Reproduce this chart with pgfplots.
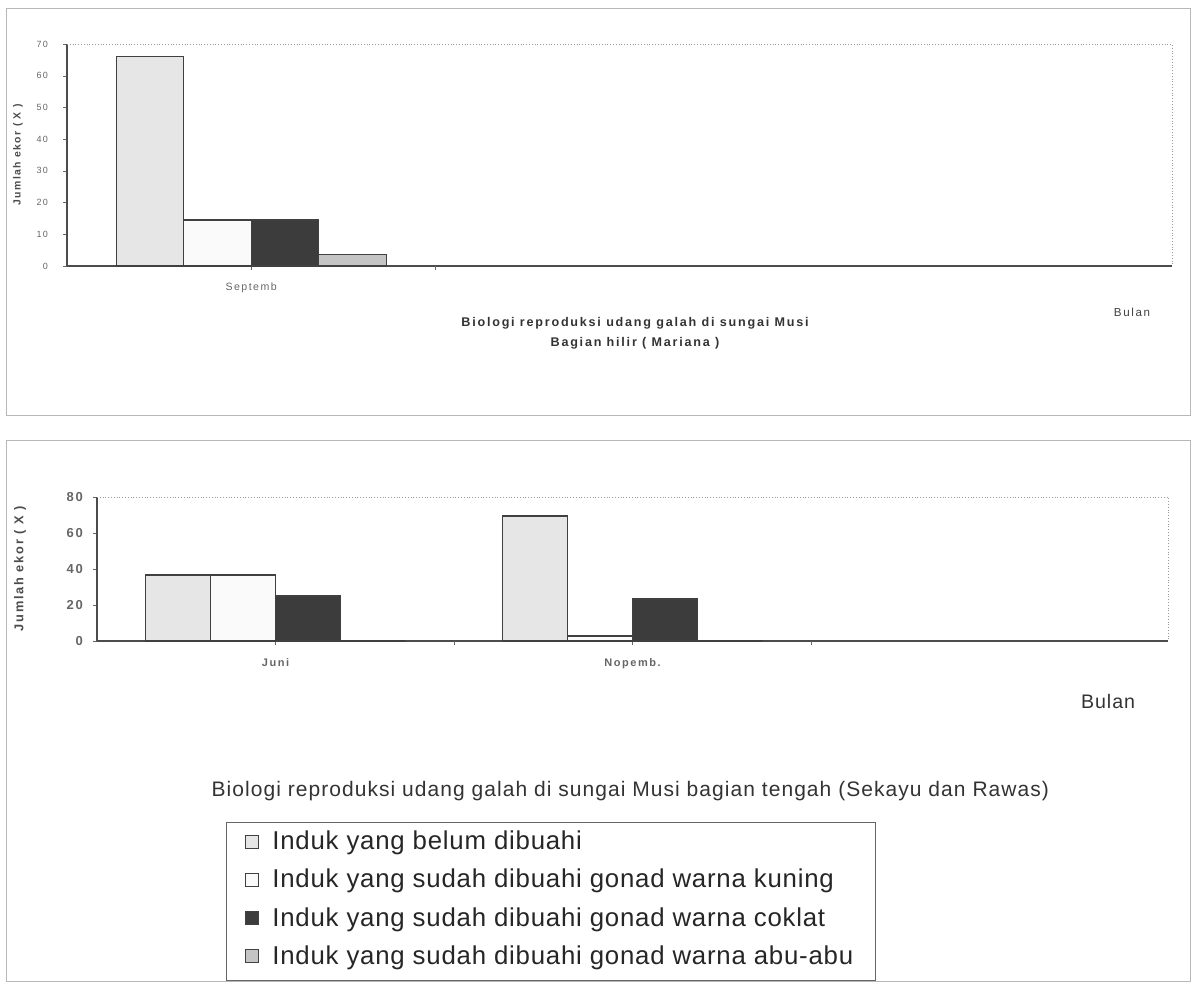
\documentclass[border=0pt]{standalone}
\usepackage{pgfplots}
\pgfplotsset{compat=1.18}
\usepackage{fontspec}
\setmainfont{Liberation Sans}
\newfontfamily\spfont[LetterSpace=14]{Liberation Sans}
\newfontfamily\lgfont[LetterSpace=3]{Liberation Sans}
\newfontfamily\tifont[LetterSpace=5]{Liberation Sans}
\definecolor{txt}{HTML}{3A3A3A}
\definecolor{frame}{HTML}{B8B8B8}
\definecolor{cbelum}{HTML}{E6E6E6}
\definecolor{ckuning}{HTML}{FAFAFA}
\definecolor{ccoklat}{HTML}{3C3C3C}
\definecolor{cabu}{HTML}{C4C4C4}
\pgfplotstableread{
x belum kuning coklat abu
0 66 14.5 14.5 3.7
}\topdata
\pgfplotstableread{
x belum kuning coklat abu
0 36.7 36.7 25 0
1 69.5 2.8 23.3 0
}\botdata
\begin{document}
\begin{tikzpicture}
\path[use as bounding box] (0,0) rectangle (597pt,-491pt);
\draw[frame, line width=0.5pt] (3pt,-4pt) rectangle (595pt,-207.5pt);
\draw[frame, line width=0.5pt] (3pt,-220pt) rectangle (595pt,-490.5pt);
\pgfplotsset{
  mybars/.style={
    ybar=0pt, scale only axis, anchor=south west,
    xmin=-0.5, xmax=2.5, ymin=0,
    axis x line*=bottom, axis y line*=left,
    axis line style={black!70, line width=0.6pt},
    tick align=outside, major tick length=2pt,
    tick style={black!60},
    ticklabel style={text=black!60},
    xlabel style={text=black!75},
    ylabel style={text=black!70},
    /pgf/number format/assume math mode=true,
    every axis plot/.append style={draw=black!75, line width=0.6pt},
    clip=false,
  },
}
\begin{axis}[mybars,
  at={(33.5pt,-133pt)},
  width=552.5pt, height=111pt,
  bar width=33.75pt,
  ymax=70, ytick={0,10,...,70},
  xtick={0}, xticklabels={Septemb},
  extra x ticks={0.5}, extra x tick labels={},
  ticklabel style={font=\spfont\fontsize{4.5}{5}\selectfont},
  xticklabel style={yshift=-3pt, font=\spfont\fontsize{5.3}{6}\selectfont},
  yticklabel style={xshift=-4pt},
  xlabel={Bulan},
  xlabel style={at={(axis description cs:0.9638,-0.207)}, anchor=center, font=\spfont\fontsize{5.8}{6}\selectfont},
  ylabel={Jumlah ekor ( X )},
  ylabel style={at={(axis description cs:-0.0443,0.5)}, anchor=center, rotate=0, font=\bfseries\spfont\fontsize{5.2}{6}\selectfont},
  title={Biologi reproduksi udang galah di sungai Musi\\ Bagian hilir ( Mariana )},
  title style={at={(axis description cs:0.514,-0.356)}, anchor=center, align=center, text=black!80,
    font=\bfseries\spfont\fontsize{6.3}{10}\selectfont},
]
\addplot[fill=cbelum] table[x=x,y=belum]{\topdata};
\addplot[fill=ckuning] table[x=x,y=kuning]{\topdata};
\addplot[fill=ccoklat] table[x=x,y=coklat]{\topdata};
\addplot[fill=cabu] table[x=x,y=abu]{\topdata};
\draw[densely dotted, black!40] (rel axis cs:0,1) -- (rel axis cs:1,1) -- (rel axis cs:1,0);
\end{axis}
\begin{axis}[mybars,
  at={(48.5pt,-320.5pt)},
  width=535.5pt, height=72pt,
  bar width=32.5pt,
  ymax=80, ytick={0,20,...,80},
  xtick={0,1}, xticklabels={Juni,Nopemb.},
  extra x ticks={0.5,1.5}, extra x tick labels={},
  xticklabel style={font=\bfseries\spfont\fontsize{5.5}{6}\selectfont, yshift=-3pt},
  yticklabel style={font=\bfseries\spfont\fontsize{6.5}{7}\selectfont, xshift=-1.5pt},
  xlabel={Bulan},
  xlabel style={at={(axis description cs:0.944,-0.417)}, anchor=center, font=\tifont\fontsize{9.8}{10}\selectfont, text=black!80},
  ylabel={Jumlah ekor ( X )},
  ylabel style={at={(axis description cs:-0.0719,0.5)}, anchor=center, rotate=0, font=\bfseries\spfont\fontsize{6.4}{7}\selectfont},
  title={Biologi reproduksi udang galah di sungai Musi bagian tengah (Sekayu dan Rawas)},
  title style={at={(axis description cs:0.498,-1.125)}, anchor=center, text=black!80, font=\tifont\fontsize{10.5}{11}\selectfont},
  legend style={at={(axis description cs:0.138,-1.29)}, anchor=north west, draw=none, fill=none,
    font=\lgfont\fontsize{12.9}{14}\selectfont, text=black!85, row sep=4.2pt, inner sep=0pt,
    nodes={inner xsep=2.5pt}, /tikz/every odd column/.append style={column sep=4pt}},
  legend cell align=left,
  legend image code/.code={\draw[#1, line width=0.5pt] (0pt,-3.3pt) rectangle (6.6pt,3.3pt);},
]
\addplot[fill=cbelum] table[x=x,y=belum]{\botdata};
\addplot[fill=ckuning] table[x=x,y=kuning]{\botdata};
\addplot[fill=ccoklat] table[x=x,y=coklat]{\botdata};
\addplot[fill=cabu] table[x=x,y=abu]{\botdata};
\legend{Induk yang belum dibuahi, Induk yang sudah dibuahi gonad warna kuning, Induk yang sudah dibuahi gonad warna coklat, Induk yang sudah dibuahi gonad warna abu-abu}
\draw[densely dotted, black!40] (rel axis cs:0,1) -- (rel axis cs:1,1) -- (rel axis cs:1,0);
\end{axis}
\draw[black!60, line width=0.5pt] (113pt,-411pt) rectangle (437.5pt,-490pt);
\end{tikzpicture}
\end{document}
